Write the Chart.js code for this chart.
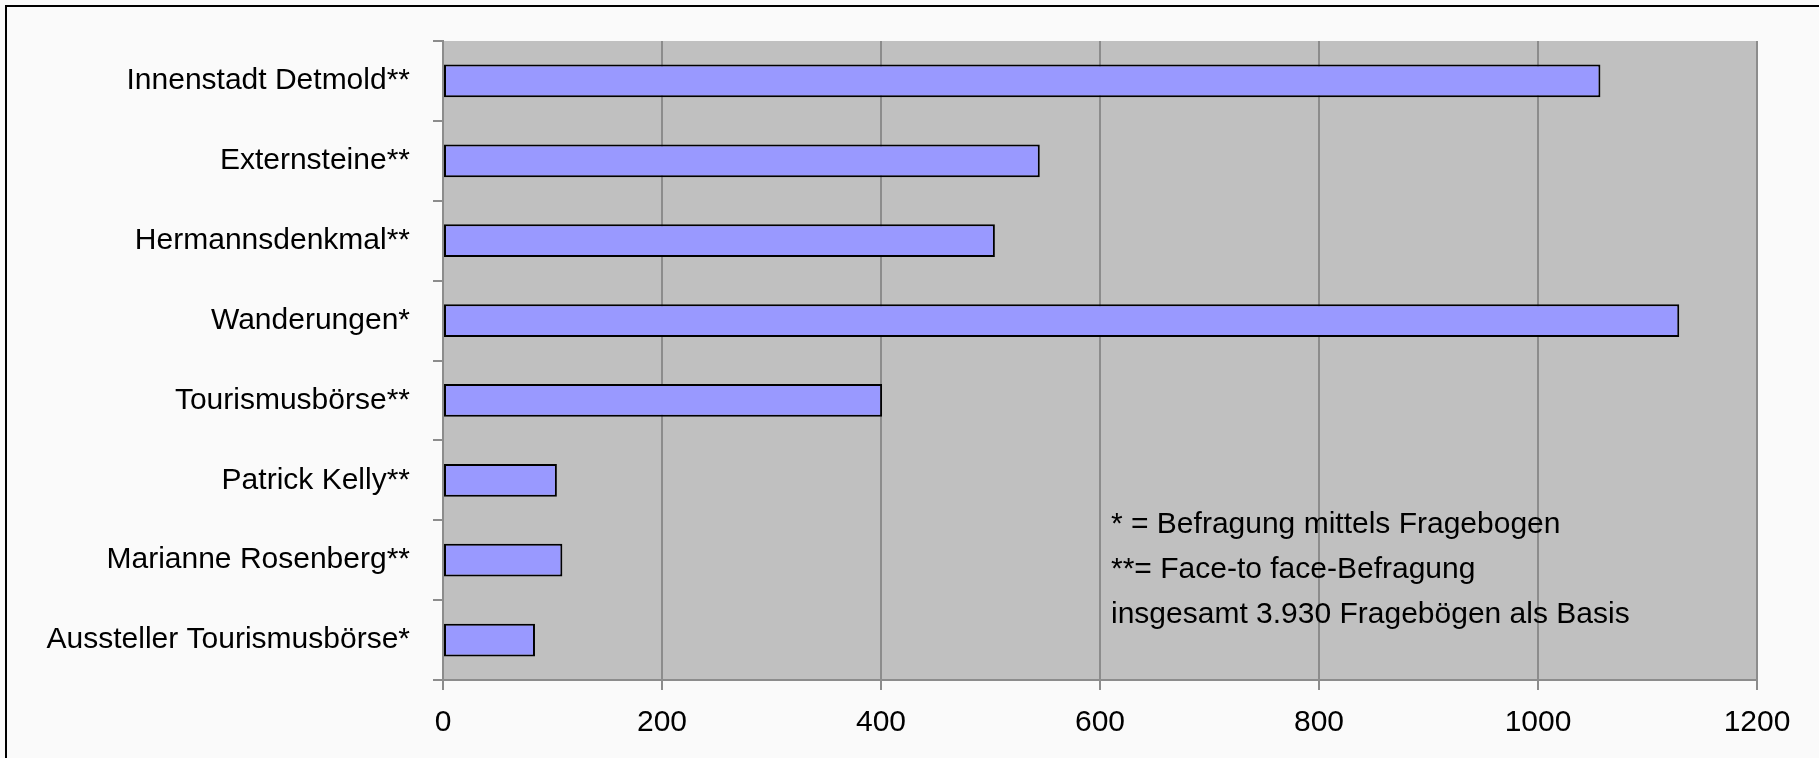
<!DOCTYPE html>
<html>
<head>
<meta charset="utf-8">
<script src="https://cdn.jsdelivr.net/npm/chart.js@4"></script>
<style>
  html, body { margin: 0; padding: 0; background: #fafafa; overflow: hidden; }
  #wrap { position: relative; width: 1819px; height: 758px; overflow: hidden; }
  #frame { position: absolute; left: 5px; top: 5px; width: 1840px; height: 800px; border: 2px solid #000; }
  #note {
    position: absolute; left: 1111px; top: 500px;
    font-family: "Liberation Sans", Arial, sans-serif;
    font-size: 30px; line-height: 45px; color: #000; white-space: nowrap;
  }
  canvas { position: absolute; left: 0; top: 0; }
</style>
</head>
<body>
<div id="wrap">
  <div id="frame"></div>
  <canvas id="chart" width="1819" height="758"></canvas>
  <div id="note">* = Befragung mittels Fragebogen<br>**= Face-to face-Befragung<br>insgesamt 3.930 Fragebögen als Basis</div>
</div>
<script>
const categories = [
  "Innenstadt Detmold**",
  "Externsteine**",
  "Hermannsdenkmal**",
  "Wanderungen*",
  "Tourismusbörse**",
  "Patrick Kelly**",
  "Marianne Rosenberg**",
  "Aussteller Tourismusbörse*"
];
const values = [1057, 545, 504, 1129, 401, 104, 109, 84];
const xTicks = [0, 200, 400, 600, 800, 1000, 1200];

const fontFamily = '"Liberation Sans", Arial, sans-serif';
const gridColor = "#8c8c8c";

// grey plot area like the old office chart
const plotBg = {
  id: "plotBg",
  beforeDraw(chart) {
    const { ctx, chartArea: a } = chart;
    ctx.save();
    ctx.fillStyle = "#c0c0c0";
    ctx.fillRect(a.left, a.top, a.right - a.left, a.bottom - a.top);
    ctx.restore();
  }
};

new Chart(document.getElementById("chart"), {
  type: "bar",
  data: {
    labels: categories,
    datasets: [{
      data: values,
      backgroundColor: "#9999ff",
      borderColor: "#000",
      borderWidth: 2,
      borderSkipped: false,
      categoryPercentage: 1,
      barPercentage: 0.41
    }]
  },
  options: {
    indexAxis: "y",
    responsive: false,
    animation: false,
    layout: { padding: { left: 0, top: 36, right: 62, bottom: 0 } },
    plugins: { legend: { display: false }, tooltip: { enabled: false } },
    scales: {
      x: {
        min: 0,
        max: 1200,
        afterBuildTicks: (s) => { s.ticks = xTicks.map(v => ({ value: v })); },
        afterFit: (s) => { s.height = 78; },
        ticks: {
          color: "#000",
          font: { family: fontFamily, size: 30 },
          padding: 15,
          callback: (v) => String(v)
        },
        grid: { color: gridColor, lineWidth: 2, tickLength: 10 },
        border: { color: gridColor, width: 2 }
      },
      y: {
        afterFit: (s) => { s.width = 443; },
        ticks: { color: "#000", font: { family: fontFamily, size: 30 }, padding: 23 },
        grid: { drawOnChartArea: false, color: gridColor, lineWidth: 2, tickLength: 10, offset: true },
        border: { color: gridColor, width: 2 }
      }
    }
  },
  plugins: [plotBg]
});
</script>
</body>
</html>
